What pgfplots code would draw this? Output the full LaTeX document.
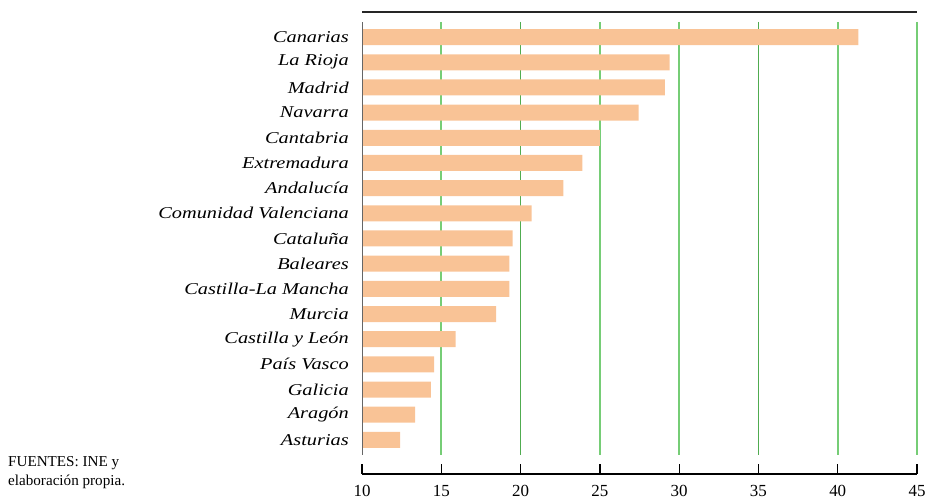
\documentclass[border=0pt]{standalone}
\usepackage{fontspec}
\setmainfont{Liberation Serif}
\newfontfamily\labfont{Liberation Serif}[FakeStretch=1.23]
\usepackage{pgfplots}
\pgfplotsset{compat=1.18}

\definecolor{barc}{RGB}{249,195,150}
\definecolor{gridlight}{RGB}{118,205,118}
\definecolor{griddark}{RGB}{80,172,80}

\begin{document}
\begin{tikzpicture}[x=1bp,y=1bp]
\path[use as bounding box] (0,0) rectangle (927,500);

% bars
\begin{axis}[
  at={(362bp,45bp)}, anchor=south west,
  scale only axis, width=555bp, height=433bp,
  xmin=10, xmax=45,
  ymin=-0.6, ymax=16.6, y dir=reverse,
  axis line style={draw=none},
  xtick={15,25,30,40,45}, xticklabels={},
  extra x ticks={20,35}, extra x tick labels={},
  extra x tick style={grid style={griddark, line width=1.3bp}},
  xmajorgrids, grid style={gridlight, line width=1.6bp},
  major tick length=0pt,
  ytick={0,...,16},
  yticklabels={Canarias, La Rioja, Madrid, Navarra, Cantabria, Extremadura,
    Andalucía, Comunidad Valenciana, Cataluña, Baleares, Castilla-La Mancha,
    Murcia, Castilla y León, País Vasco, Galicia, Aragón, Asturias},
  yticklabel style={font=\labfont\itshape\fontsize{16.6}{18}\selectfont,
    anchor=east, inner sep=0pt, xshift=-13bp},
  xbar, bar width=16bp,
]
\addplot[draw=none, fill=barc] coordinates {
  (41.3,0) (29.4,1) (29.1,2) (27.45,3) (25.0,4) (23.9,5) (22.7,6)
  (20.7,7) (19.5,8) (19.3,9) (19.3,10) (18.45,11) (15.9,12)
  (14.55,13) (14.35,14) (13.35,15) (12.4,16)
};
\draw[gray!80!black, line width=1.5bp] (rel axis cs:0,0) -- (rel axis cs:0,1);
\end{axis}

% bottom scale
\begin{axis}[
  at={(362bp,26bp)}, anchor=south west,
  scale only axis, width=555bp, height=100bp,
  xmin=10, xmax=45, ymin=0, ymax=1,
  axis x line=bottom, axis y line=none,
  axis line style={-, black, line width=1.3bp},
  xtick={10,15,...,45},
  tick align=inside, major tick length=10bp,
  tick style={black, line width=1.3bp},
  xticklabel style={font=\fontsize{17}{19}\selectfont, anchor=north,
    inner sep=0pt, yshift=-11bp},
  /pgf/number format/assume math mode=true,
]
\end{axis}

\draw[black!85, line width=2bp] (362,488) -- (917,488);

\node[anchor=base west, inner sep=0pt, font=\fontsize{15.2}{18}\selectfont]
  at (8,33) {FUENTES: INE y};
\node[anchor=base west, inner sep=0pt, font=\fontsize{15.2}{18}\selectfont]
  at (8,14) {elaboración propia.};
\end{tikzpicture}
\end{document}
